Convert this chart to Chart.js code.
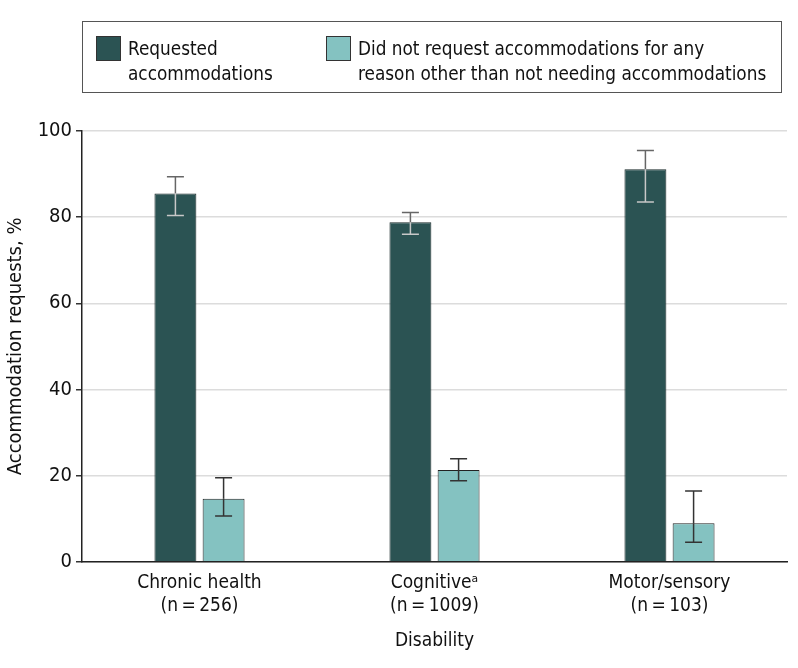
<!DOCTYPE html>
<html>
<head>
<meta charset="utf-8">
<script src="https://cdn.jsdelivr.net/npm/chart.js@4.4.1/dist/chart.umd.min.js"></script>
<style>
  body { margin: 0; background: #fff; }
  #wrap { position: relative; width: 798px; height: 668px; }
  #legend {
    position: absolute; left: 82px; top: 21px; width: 700px; height: 72px;
    border: 1px solid #555; box-sizing: border-box;
    font-family: "Liberation Sans Narrow", "DejaVu Sans Condensed", "Roboto Condensed", sans-serif;
    font-size: 18.8px; line-height: 25px; color: #111;
  }
  .item { position: absolute; top: 13px; }
  .sw { position: absolute; top: 1px; width: 25px; height: 25px; border: 1px solid #333; box-sizing: border-box; }
  .lbl { position: absolute; left: 32px; top: 1px; white-space: nowrap; }
</style>
</head>
<body>
<div id="wrap">
  <canvas id="chart" width="798" height="668"></canvas>
  <div id="legend">
    <div class="item" style="left:13px"><div class="sw" style="background:#2b5353"></div><div class="lbl">Requested<br>accommodations</div></div>
    <div class="item" style="left:243px"><div class="sw" style="background:#84c2c1"></div><div class="lbl">Did not request accommodations for any<br>reason other than not needing accommodations</div></div>
  </div>
</div>
<script>
const categories = [
  ["Chronic health", "(n\u2009=\u2009256)"],
  ["Cognitive\u1d43", "(n\u2009=\u20091009)"],
  ["Motor/sensory", "(n\u2009=\u2009103)"]
];
const requested = [85.5, 78.8, 91.1];
const requestedLow = [80.4, 76.0, 83.5];
const requestedHigh = [89.4, 81.1, 95.5];
const notRequested = [14.6, 21.3, 8.9];
const notRequestedLow = [10.6, 18.8, 4.5];
const notRequestedHigh = [19.5, 23.9, 16.4];
const yTicks = [0, 20, 40, 60, 80, 100];

const fontFamily = '"Liberation Sans Narrow", "DejaVu Sans Condensed", "Roboto Condensed", sans-serif';

const errorBars = {
  id: "errorBars",
  afterDatasetsDraw(chart) {
    const ctx = chart.ctx;
    const y = chart.scales.y;
    chart.data.datasets.forEach((ds, di) => {
      const meta = chart.getDatasetMeta(di);
      meta.data.forEach((bar, i) => {
        const x = bar.x;
        const top = y.getPixelForValue(ds.errHigh[i]);
        const bot = y.getPixelForValue(ds.errLow[i]);
        const valY = y.getPixelForValue(ds.data[i]);
        ctx.save();
        ctx.lineWidth = 1.5;
        // above the bar top
        ctx.strokeStyle = ds.errOut;
        ctx.beginPath();
        ctx.moveTo(x - 8.5, top); ctx.lineTo(x + 8.5, top);
        ctx.moveTo(x, top); ctx.lineTo(x, valY);
        ctx.stroke();
        // inside the bar
        ctx.strokeStyle = ds.errIn;
        ctx.beginPath();
        ctx.moveTo(x, valY); ctx.lineTo(x, bot);
        ctx.moveTo(x - 8.5, bot); ctx.lineTo(x + 8.5, bot);
        ctx.stroke();
        ctx.restore();
      });
    });
  }
};

new Chart(document.getElementById("chart"), {
  type: "bar",
  data: {
    labels: categories,
    datasets: [
      {
        label: "Requested accommodations",
        data: requested,
        errLow: requestedLow,
        errHigh: requestedHigh,
        errOut: "#666",
        errIn: "#c8c8c8",
        backgroundColor: "#2b5353",
        borderColor: "#1a2a2a",
        borderWidth: 1,
        categoryPercentage: 0.41,
        barPercentage: 0.87
      },
      {
        label: "Did not request accommodations for any reason other than not needing accommodations",
        data: notRequested,
        errLow: notRequestedLow,
        errHigh: notRequestedHigh,
        errOut: "#333",
        errIn: "#333",
        backgroundColor: "#84c2c1",
        borderColor: "#222",
        borderWidth: 1,
        categoryPercentage: 0.41,
        barPercentage: 0.87
      }
    ]
  },
  options: {
    responsive: false,
    animation: false,
    layout: { padding: { top: 131, right: 11, left: 4, bottom: 16 } },
    plugins: {
      legend: { display: false },
      tooltip: { enabled: false }
    },
    scales: {
      x: {
        grid: { display: false, drawTicks: false },
        border: { color: "#222", width: 1.5 },
        ticks: {
          color: "#111",
          padding: 9,
          maxRotation: 0,
          font: { family: fontFamily, size: 19, lineHeight: 1.25 }
        },
        title: {
          display: true,
          text: "Disability",
          color: "#111",
          padding: { top: 2, bottom: 0 },
          font: { family: fontFamily, size: 19 }
        }
      },
      y: {
        min: 0,
        max: 100,
        afterBuildTicks(scale) { scale.ticks = yTicks.map(v => ({ value: v })); },
        afterFit(scale) { scale.width = 78; },
        grid: { color: "#dcdcdc", lineWidth: 1.5, tickColor: "#333", tickLength: 6 },
        border: { color: "#222", width: 1.5 },
        ticks: {
          color: "#111",
          padding: 4,
          font: { family: fontFamily, size: 20 }
        },
        title: {
          display: true,
          text: "Accommodation requests, %",
          color: "#111",
          padding: { top: 0, bottom: 6 },
          font: { family: fontFamily, size: 20 }
        }
      }
    }
  },
  plugins: [errorBars]
});
</script>
</body>
</html>
